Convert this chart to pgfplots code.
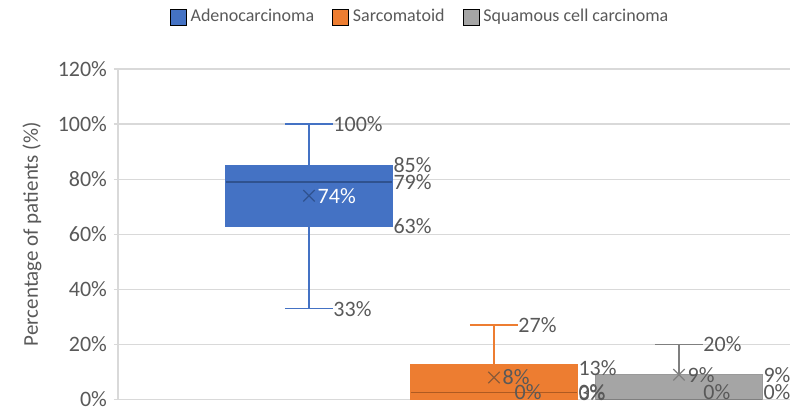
\documentclass[border=0pt]{standalone}
\usepackage{fontspec}
\setmainfont{Carlito}
\usepackage{pgfplots}
\pgfplotsset{compat=1.18}
\usepgfplotslibrary{statistics}

\definecolor{adeno}{HTML}{4472C4}
\definecolor{adenoD}{HTML}{2F528F}
\definecolor{sarco}{HTML}{ED7D31}
\definecolor{sarcoD}{HTML}{AE5A21}
\definecolor{squam}{HTML}{A5A5A5}
\definecolor{squamD}{HTML}{7F7F7F}
\definecolor{txt}{HTML}{595959}
\definecolor{gridc}{HTML}{D9D9D9}

% label positions (x already shifted to where the label starts,
% labels at 0 lifted so they stay inside the plot area)
\pgfplotstableread{
x y lab
1.455 85 85\%
1.455 79 79\%
1.455 63 63\%
1.13 100 100\%
1.13 33 33\%
2.455 11.5 13\%
2.455 2.5 3\%
2.455 2.7 0\%
2.13 27 27\%
2.11 2.7 0\%
2.045 8 8\%
3.455 9 9\%
3.455 2.7 0\%
3.13 20 20\%
3.13 2.7 0\%
3.045 9 9\%
}\greylabels
\pgfplotstableread{
x y lab
1.045 74 74\%
}\whitelabels

\begin{document}
\begin{tikzpicture}
\begin{axis}[
  name=ax,
  scale only axis, width=336pt, height=165.25pt,
  xmin=-0.0324, xmax=3.6, ymin=0, ymax=120,
  ytick={0,20,...,120},
  yticklabel={\pgfmathprintnumber{\tick}\%},
  xtick=\empty,
  axis y line*=left, axis x line*=bottom,
  axis line style={draw=gridc, line width=0.6pt},
  ymajorgrids, grid style={draw=gridc, line width=0.6pt},
  tick align=outside, major tick length=2pt,
  tick style={draw=gridc, line width=0.6pt},
  /pgf/number format/assume math mode=true,
  yticklabel style={font=\fontsize{11}{13}\selectfont, text=txt},
  every axis y label/.style={at={(axis description cs:-0.128,0.5)}, rotate=90, anchor=center,
    font=\fontsize{10.5}{12}\selectfont, text=txt},
  ylabel={Percentage of patients (\%)},
  boxplot/draw direction=y,
  legend image code/.code={\fill[#1] (0pt,-4pt) rectangle (8pt,4pt);},
  legend columns=3,
  legend style={draw=none, fill=none, at={(0.451,1.157)}, anchor=center,
    font=\fontsize{9}{11}\selectfont, text=txt,
    /tikz/every even column/.append style={column sep=7pt}},
  clip=false,
]
\addplot[forget plot, boxplot prepared={draw position=1, median=79, upper quartile=85,
    lower quartile=63, upper whisker=100, lower whisker=33, box extend=0.9, whisker extend=0.26},
  boxplot/every box/.style={fill=adeno, draw=adeno},
  boxplot/every whisker/.style={draw=adeno, line width=0.8pt},
  boxplot/every median/.style={draw=adenoD, line width=0.8pt}] coordinates {};
\addplot[forget plot, boxplot prepared={draw position=2, median=2.5, upper quartile=12.7,
    lower quartile=0, upper whisker=27, lower whisker=0, box extend=0.9, whisker extend=0.26},
  boxplot/every box/.style={fill=sarco, draw=sarco},
  boxplot/every whisker/.style={draw=sarco, line width=0.8pt},
  boxplot/every median/.style={draw=sarcoD, line width=0.8pt}] coordinates {};
\addplot[forget plot, boxplot prepared={draw position=3, median=0, upper quartile=9,
    lower quartile=0, upper whisker=20, lower whisker=0, box extend=0.9, whisker extend=0.26},
  boxplot/every box/.style={fill=squam, draw=squamD!80},
  boxplot/every whisker/.style={draw=squamD, line width=0.8pt},
  boxplot/every median/.style={draw=squamD, line width=0.8pt}] coordinates {};
% means
\addplot[forget plot, only marks, mark=x, mark size=4pt, draw=adenoD, line width=0.6pt]
  coordinates {(1,74)};
\addplot[forget plot, only marks, mark=x, mark size=4pt, draw=sarcoD!60!txt, line width=0.6pt]
  coordinates {(2,8)};
\addplot[forget plot, only marks, mark=x, mark size=4pt, draw=squamD, line width=0.6pt]
  coordinates {(3,9)};
% data labels
\addplot[forget plot, draw=none, nodes near coords, point meta=explicit symbolic,
  every node near coord/.append style={anchor=west, inner sep=0pt, text=txt,
    font=\fontsize{11}{13}\selectfont}]
  table[x=x, y=y, meta=lab] {\greylabels};
\addplot[forget plot, draw=none, nodes near coords, point meta=explicit symbolic,
  every node near coord/.append style={anchor=west, inner sep=0pt, text=white,
    font=\fontsize{11}{13}\selectfont}]
  table[x=x, y=y, meta=lab] {\whitelabels};
\addlegendimage{fill=adeno}
\addlegendentry{Adenocarcinoma}
\addlegendimage{fill=sarco}
\addlegendentry{Sarcomatoid}
\addlegendimage{fill=squam}
\addlegendentry{Squamous cell carcinoma}
\end{axis}
\pgfresetboundingbox
\path[use as bounding box] ([shift={(-59pt,-4.25pt)}]ax.south west) rectangle
  ([shift={(338pt,199.75pt)}]ax.south west);
\end{tikzpicture}
\end{document}
